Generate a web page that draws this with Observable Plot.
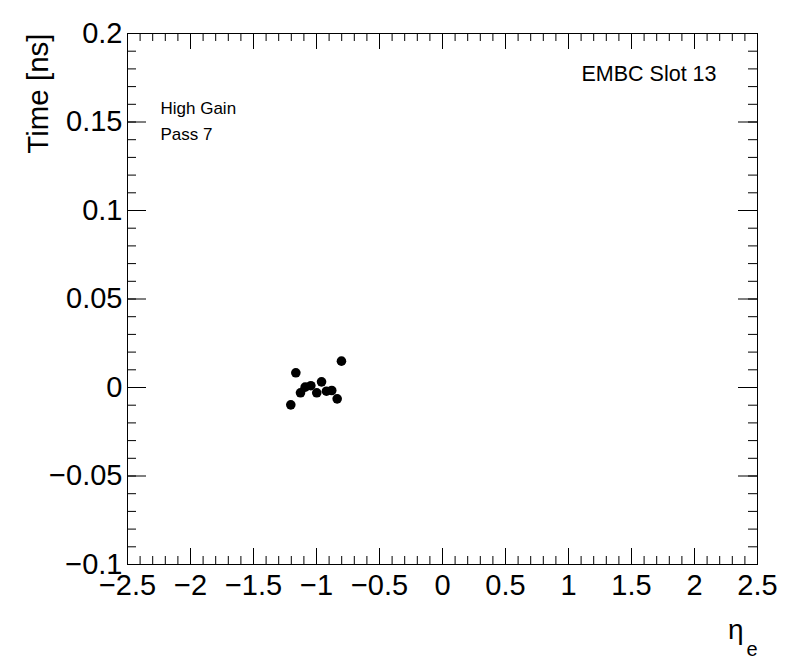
<!DOCTYPE html>
<html>
<head>
<meta charset="utf-8">
<script src="https://cdn.jsdelivr.net/npm/d3@7"></script>
<script src="https://cdn.jsdelivr.net/npm/@observablehq/plot@0.6"></script>
<style>
  html, body { margin: 0; padding: 0; background: #fff; }
  #chart svg { display: block; }
</style>
</head>
<body>
<div id="chart"></div>
<script>
// data: eta and time [ns]
const eta  = [-1.204, -1.164, -1.127, -1.090, -1.045, -0.998, -0.960, -0.921, -0.879, -0.836, -0.802];
const time = [-0.0098, 0.0083, -0.0030, 0.0002, 0.0010, -0.0030, 0.0032, -0.0021, -0.0017, -0.0064, 0.0149];

const xMajor = [-2.5, -2, -1.5, -1, -0.5, 0, 0.5, 1, 1.5, 2, 2.5];
const xMajorLabels = ["\u22122.5", "\u22122", "\u22121.5", "\u22121", "\u22120.5", "0", "0.5", "1", "1.5", "2", "2.5"];
const yMajor = [-0.1, -0.05, 0, 0.05, 0.1, 0.15, 0.2];
const yMajorLabels = ["\u22120.1", "\u22120.05", "0", "0.05", "0.1", "0.15", "0.2"];

const xMinor = d3.range(-25, 26).map(i => i / 10);
const yMinor = d3.range(-10, 21).map(i => i / 100);

const xDomain = [-2.5, 2.5];
const yDomain = [-0.1, 0.2];

const points = eta.map((e, i) => ({eta: e, time: time[i]}));
const xTicks = xMajor.map((v, i) => ({v, label: xMajorLabels[i]}));
const yTicks = yMajor.map((v, i) => ({v, label: yMajorLabels[i]}));

const font = "'Liberation Sans', Arial, Helvetica, sans-serif";

const plot = Plot.plot({
  width: 796,
  height: 672,
  marginLeft: 127,
  marginRight: 39,
  marginTop: 33,
  marginBottom: 108,
  x: {domain: xDomain, axis: null},
  y: {domain: yDomain, axis: null},
  style: {fontFamily: font, background: "#fff", color: "#000"},
  marks: [
    Plot.frame({stroke: "#000", strokeWidth: 1}),
    // bottom & top ticks
    Plot.ruleX(xMinor, {x: d => d, y1: yDomain[0], y2: yDomain[0], insetBottom: 8, stroke: "#000"}),
    Plot.ruleX(xMajor, {x: d => d, y1: yDomain[0], y2: yDomain[0], insetBottom: 16, stroke: "#000"}),
    Plot.ruleX(xMinor, {x: d => d, y1: yDomain[1], y2: yDomain[1], insetTop: 8, stroke: "#000"}),
    Plot.ruleX(xMajor, {x: d => d, y1: yDomain[1], y2: yDomain[1], insetTop: 16, stroke: "#000"}),
    // left & right ticks
    Plot.ruleY(yMinor, {y: d => d, x1: xDomain[0], x2: xDomain[0], insetLeft: 9, stroke: "#000"}),
    Plot.ruleY(yMajor, {y: d => d, x1: xDomain[0], x2: xDomain[0], insetLeft: 19, stroke: "#000"}),
    Plot.ruleY(yMinor, {y: d => d, x1: xDomain[1], x2: xDomain[1], insetRight: 9, stroke: "#000"}),
    Plot.ruleY(yMajor, {y: d => d, x1: xDomain[1], x2: xDomain[1], insetRight: 19, stroke: "#000"}),
    // tick labels
    Plot.text(xTicks, {x: "v", y: yDomain[0], text: "label", dy: 21, fontSize: 29, fill: "#000"}),
    Plot.text(yTicks, {x: xDomain[0], y: "v", text: "label", dx: -5, textAnchor: "end", fontSize: 29, fill: "#000"}),
    // axis titles
    Plot.text(["Time [ns]"], {x: xDomain[0], y: yDomain[1], text: d => d, dx: -89, rotate: -90, textAnchor: "end", fontSize: 29.5, fill: "#000"}),
    Plot.text(["\u03b7"], {x: xDomain[1], y: yDomain[0], text: d => d, dx: -14, dy: 66, textAnchor: "end", fontSize: 28, fill: "#000"}),
    Plot.text(["e"], {x: xDomain[1], y: yDomain[0], text: d => d, dx: 0, dy: 85, textAnchor: "end", fontSize: 20, fill: "#000"}),
    // annotations
    Plot.text(["High Gain"], {x: xDomain[0], y: yDomain[1], text: d => d, dx: 33, dy: 75, textAnchor: "start", fontSize: 17, fill: "#000"}),
    Plot.text(["Pass 7"], {x: xDomain[0], y: yDomain[1], text: d => d, dx: 33, dy: 101, textAnchor: "start", fontSize: 17, fill: "#000"}),
    Plot.text(["EMBC Slot 13"], {x: xDomain[1], y: yDomain[1], text: d => d, dx: -41, dy: 41, textAnchor: "end", fontSize: 21.5, fill: "#000"}),
    // data
    Plot.dot(points, {x: "eta", y: "time", r: 4.8, fill: "#000", stroke: "none"})
  ]
});
document.getElementById("chart").appendChild(plot);
</script>
</body>
</html>
